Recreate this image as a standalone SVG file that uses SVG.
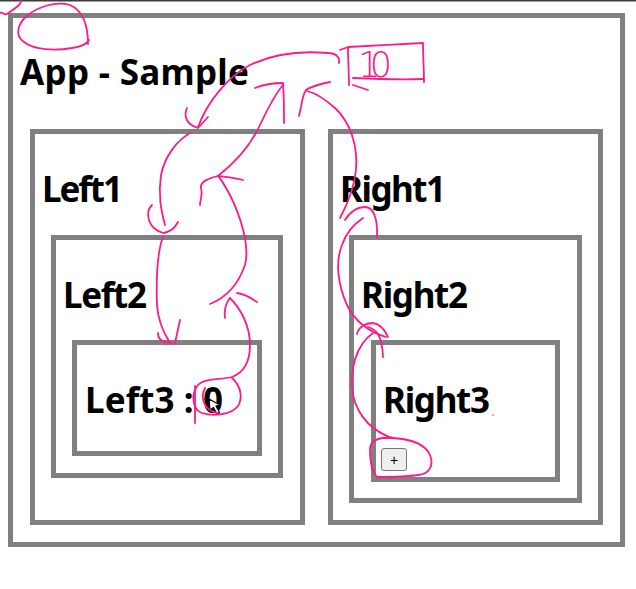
<svg xmlns="http://www.w3.org/2000/svg" width="636" height="589" viewBox="0 0 636 589">
  <style>
    .box { fill: none; stroke: #808080; stroke-width: 5; }
    .lbl { font-family: "Noto Sans", "Open Sans", "DejaVu Sans", sans-serif; font-weight: bold; font-size: 35px; fill: #000; }
    .ink { fill: none; stroke: #ff1a8c; stroke-width: 1.8; stroke-linecap: round; stroke-linejoin: round; }
    .hand { font-family: "DejaVu Sans", sans-serif; font-weight: 200; font-size: 35px; fill: #ff1a8c; }
  </style>
  <rect x="0" y="0" width="636" height="589" fill="#ffffff"/>
  <line x1="0" y1="0.75" x2="636" y2="0.75" stroke="#3c3c3c" stroke-width="1.5"/>

  <g id="app">
    <rect class="box" x="10.5" y="15.5" width="612" height="529"/>
    <text class="lbl" x="20" y="85" font-size="35" textLength="229">App - Sample</text>
  </g>
  <g id="left1">
    <rect class="box" x="32.5" y="131.5" width="270" height="391"/>
    <text class="lbl" x="42" y="202" textLength="81">Left1</text>
  </g>
  <g id="left2">
    <rect class="box" x="53.5" y="237.5" width="227" height="238"/>
    <text class="lbl" x="63" y="308" textLength="84">Left2</text>
  </g>
  <g id="left3">
    <rect class="box" x="74.5" y="342.5" width="185" height="111"/>
    <text class="lbl" x="85" y="413" textLength="138">Left3 : 0</text>
  </g>
  <g id="right1">
    <rect class="box" x="330.5" y="131.5" width="270" height="391"/>
    <text class="lbl" x="340" y="202" textLength="106">Right1</text>
  </g>
  <g id="right2">
    <rect class="box" x="351.5" y="237.5" width="228" height="263"/>
    <text class="lbl" x="361" y="308" textLength="107">Right2</text>
  </g>
  <g id="right3">
    <rect class="box" x="373.5" y="342.5" width="184" height="137"/>
    <text class="lbl" x="383" y="413" textLength="107">Right3</text>
  </g>
  <g id="plus-button">
    <rect x="381.5" y="448.5" width="25" height="22" rx="2.5" fill="#efefef" stroke="#767676" stroke-width="1"/>
    <text x="394" y="464.5" text-anchor="middle" font-family="'Liberation Sans', Arial, sans-serif" font-size="14" fill="#000">+</text>
  </g>
  <g id="cursor">
    <polygon points="209,399 210,410 213.5,407.5 217,414 219.5,412.5 216,406 220,405" fill="#ffffff" stroke="#000000" stroke-width="1.2" stroke-linejoin="round"/>
  </g>

  <g id="connectors">
    <path class="ink" d="M0,13 C3,11 4,16 7,14 C11,11 16,8 19,5 C20,4 21,2 21,1"/>
    <path class="ink" d="M88,44 C88,30 86,12 70,5 C55,1 38,7 28,15 C18,23 14,35 24,42 C34,50 55,51 72,48 C80,47 86,45 89,40"/>
    <path class="ink" d="M340,50 L348,47 C370,46 400,44 423,43 M348,47 C348,60 349,75 349,85 M423,43 C423,55 424,70 424,82 M353,78 C375,79 400,80 423,79 M353,85 L368,90"/>
    <text class="hand" x="358" y="77" textLength="34">10</text>
    <path class="ink" d="M339,63 C340,57 336,53 328,53 C305,51 275,53 250,65 C230,75 208,100 198,127"/>
    <path class="ink" d="M187,108 C184,115 185,124 198,128 M208,117 L198,128"/>
    <path class="ink" d="M190,133 C178,140 165,155 161,175 C158,195 161,210 165,225"/>
    <path class="ink" d="M152,205 C145,212 147,228 163,233 C170,232 175,228 178,222"/>
    <path class="ink" d="M163,237 C158,250 156,275 157,305 C158,322 165,335 170,343"/>
    <path class="ink" d="M158,333 C158,338 160,343 172,343 M180,320 L175,343"/>
    <path class="ink" d="M230,298 C240,308 250,325 250,345 C250,360 245,372 232,377 C220,380 204,378 198,385 C190,395 193,410 202,413 C215,417 232,414 238,406 C243,398 241,386 232,378"/>
    <path class="ink" d="M205,388 C200,398 204,410 217,413 M195,386 L195,423"/>
    <path class="ink" d="M225,318 C224,310 226,303 230,298 M237,293 C244,294 250,297 257,302"/>
    <path class="ink" d="M210,304 C225,298 238,285 245,265 C250,245 240,215 230,195 C226,188 222,180 218,176 C232,165 250,147 260,125 C268,108 276,93 283,85"/>
    <path class="ink" d="M218,176 C210,178 200,181 201,188 C203,195 200,200 200,205 M218,176 C225,177 235,178 243,180"/>
    <path class="ink" d="M255,88 C265,84 275,83 283,83 C284,95 284,110 284,123"/>
    <path class="ink" d="M340,218 C347,205 354,190 356,170 C358,145 350,122 335,108 C325,99 315,93 307,91"/>
    <path class="ink" d="M330,82 C320,84 312,86 306,90 C302,96 302,104 299,116"/>
    <path class="ink" d="M386,337 C370,332 355,322 347,305 C338,285 335,262 342,245 C346,233 354,224 363,218"/>
    <path class="ink" d="M345,220 C350,212 357,207 365,207 C373,207 378,218 377,237"/>
    <path class="ink" d="M393,438 C375,433 358,418 353,395 C349,370 356,345 373,333"/>
    <path class="ink" d="M357,334 C358,328 365,323 373,323 C380,324 385,330 388,337 M368,327 C375,329 382,333 383,357"/>
    <path class="ink" d="M393,438 C410,439 425,444 430,455 C434,465 430,474 418,475 C405,477 390,477 377,477 C372,472 370,460 370,450 C370,443 374,439 383,438 C387,438 390,438 393,438"/>
    <circle cx="493" cy="415" r="0.8" fill="#ff1a8c"/>
  </g>
</svg>
